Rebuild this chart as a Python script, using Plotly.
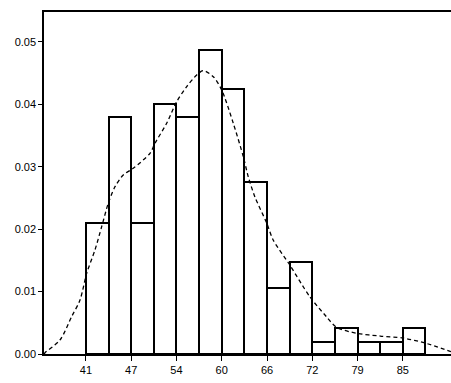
import plotly.graph_objects as go

# Histogram bins (left edges) and density heights
bin_edges = [41.0, 44.143, 47.286, 50.429, 53.571, 56.714, 59.857, 63.0,
             66.143, 69.286, 72.429, 75.571, 78.714, 81.857, 85.0, 88.143]
bar_heights = [0.0210, 0.0380, 0.0210, 0.0401, 0.0380, 0.0487, 0.0424, 0.0275,
               0.0105, 0.0148, 0.0019, 0.0041, 0.0019, 0.0019, 0.0041]

# Density curve (dashed)
curve_x = [35.17, 35.31, 37.39, 39.01, 40.17, 41.10, 42.25, 43.18, 44.10, 45.03,
           46.18, 47.57, 49.89, 50.58, 52.21, 53.60, 54.99, 56.38, 57.29, 58.68,
           59.85, 61.46, 62.85, 63.54, 64.47, 66.10, 67.00, 69.31, 72.09, 74.40,
           75.80, 78.57, 81.88, 85.03, 88.08, 91.69]
curve_y = [0.0000, 0.00021, 0.00224, 0.00598, 0.00865, 0.01293, 0.01667, 0.02040,
           0.02415, 0.02681, 0.02869, 0.02976, 0.03216, 0.03377, 0.03697, 0.04043,
           0.04284, 0.04471, 0.04540, 0.04444, 0.04231, 0.03697, 0.03162, 0.02841,
           0.02516, 0.02099, 0.01827, 0.01426, 0.00918, 0.00598, 0.00428, 0.00332,
           0.00288, 0.00256, 0.00176, 0.00037]

tick_vals = [41.0, 47.286, 53.571, 59.857, 66.143, 72.429, 78.714, 85.0]
tick_text = ["41", "47", "54", "60", "66", "72", "79", "85"]
y_ticks = [0.00, 0.01, 0.02, 0.03, 0.04, 0.05]

centers = [(bin_edges[i] + bin_edges[i + 1]) / 2 for i in range(len(bar_heights))]
widths = [bin_edges[i + 1] - bin_edges[i] for i in range(len(bar_heights))]

fig = go.Figure()
fig.add_trace(go.Bar(
    x=centers, y=bar_heights, width=widths,
    marker=dict(color="white", line=dict(color="black", width=2)),
    showlegend=False, hoverinfo="skip",
))
fig.add_trace(go.Scatter(
    x=curve_x, y=curve_y, mode="lines",
    line=dict(color="black", width=1.3, dash="4px,3px", shape="spline", smoothing=0.8),
    showlegend=False, hoverinfo="skip",
))

fig.update_layout(
    width=451, height=383,
    margin=dict(l=44, r=0, t=12, b=29),
    paper_bgcolor="white", plot_bgcolor="white",
    font=dict(family="Liberation Sans, Arial, sans-serif", size=11, color="black"),
    bargap=0,
)
fig.update_xaxes(
    range=[35.17, 91.7], tickvals=tick_vals, ticktext=tick_text,
    showline=True, linecolor="black", linewidth=1.5, mirror=True,
    ticks="outside", ticklen=5, tickcolor="black", tickwidth=1,
    showgrid=False, zeroline=False, automargin=False,
)
fig.update_yaxes(
    range=[0, 0.0548], tickvals=y_ticks, tickformat=".2f",
    showline=True, linecolor="black", linewidth=1.5, mirror=False,
    ticks="outside", ticklen=4, tickcolor="black", tickwidth=1,
    showgrid=False, zeroline=False, automargin=False,
)

fig.write_html(
    "out.html",
    config={"displayModeBar": False},
    post_script="document.body.style.margin='0';document.body.style.overflow='hidden';",
)
